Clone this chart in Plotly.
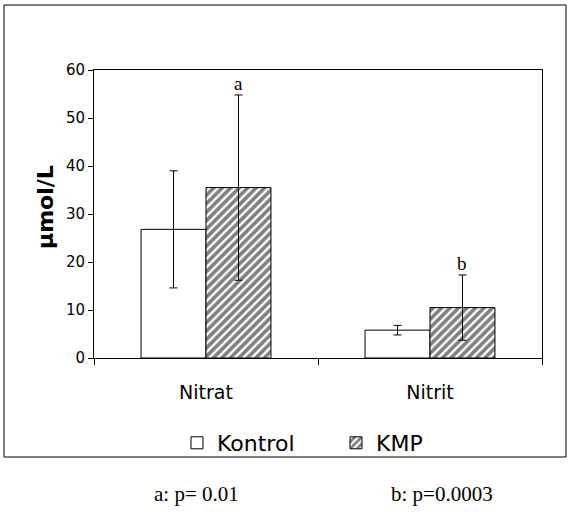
import plotly.graph_objects as go

categories = ["Nitrat", "Nitrit"]
kontrol = [26.8, 5.8]
kontrol_err = [12.2, 1.0]
kmp = [35.5, 10.5]
kmp_err = [19.3, 6.8]
sig_labels = ["a", "b"]
y_ticks = [0, 10, 20, 30, 40, 50, 60]
footnotes = ["a: p= 0.01", "b: p=0.0003"]

W, H = 568, 515
L, R, T, B = 94, 26, 70, 157
SANS = "DejaVu Sans"
SERIF = "Liberation Serif"

fig = go.Figure()
fig.add_trace(go.Bar(
    name="Kontrol", x=categories, y=kontrol,
    marker=dict(color="white", line=dict(color="black", width=1)),
    error_y=dict(type="data", array=kontrol_err, color="black", thickness=1, width=4),
))
fig.add_trace(go.Bar(
    name="KMP", x=categories, y=kmp,
    marker=dict(color="white", line=dict(color="black", width=1),
                pattern=dict(shape="/", fgcolor="black", bgcolor="white", size=6, solidity=0.6)),
    error_y=dict(type="data", array=kmp_err, color="black", thickness=1, width=4),
))

for i, c in enumerate(categories):
    fig.add_annotation(x=c, y=kmp[i] + kmp_err[i], xshift=32, text=sig_labels[i],
                       showarrow=False, yanchor="bottom", yshift=-1,
                       font=dict(family=SERIF, size=19, color="black"))

pw = W - L - R
ph = H - T - B
def px2x(px):
    return (px - L) / pw
def py2y(py):
    return (H - B - py) / ph

fig.add_shape(type="rect", xref="paper", yref="paper",
              x0=px2x(4), x1=px2x(566), y0=py2y(457), y1=py2y(5),
              line=dict(color="black", width=1))

fig.add_annotation(x=px2x(196), y=py2y(494), xref="paper", yref="paper", text=footnotes[0],
                   xanchor="center", yanchor="middle",
                   showarrow=False, font=dict(family=SERIF, size=21, color="black"))
fig.add_annotation(x=px2x(442), y=py2y(494), xref="paper", yref="paper", text=footnotes[1],
                   xanchor="center", yanchor="middle",
                   showarrow=False, font=dict(family=SERIF, size=21, color="black"))

fig.add_annotation(x=px2x(45), y=py2y(207), xref="paper", yref="paper", text="<b>µmol/L</b>",
                   xanchor="center", yanchor="middle", textangle=-90,
                   showarrow=False, font=dict(family=SANS, size=22, color="black"))

fig.update_layout(
    width=W, height=H,
    margin=dict(l=L, r=R, t=T, b=B),
    paper_bgcolor="white", plot_bgcolor="white",
    barmode="group", bargap=0.42, bargroupgap=0,
    font=dict(family=SANS, color="black"),
    showlegend=True,
    legend=dict(orientation="h", x=px2x(177), xanchor="left", y=py2y(443), yanchor="middle",
                bgcolor="rgba(0,0,0,0)",
                font=dict(family=SANS, size=22, color="black"),
                itemwidth=30, traceorder="normal", entrywidth=114, entrywidthmode="pixels"),
    xaxis=dict(showline=True, linecolor="black", linewidth=1, mirror=True,
               ticks="outside", tickson="boundaries", ticklen=6, tickcolor="black",
               tickfont=dict(family=SANS, size=19, color="black"), ticklabelstandoff=17,
               showgrid=False),
    yaxis=dict(range=[0, 60], tickvals=y_ticks, showline=True, linecolor="black", linewidth=1,
               mirror=True, ticks="outside", ticklen=5, tickcolor="black",
               tickfont=dict(family=SANS, size=15, color="black"),
               showgrid=False, zeroline=False),
)

fig.write_html("out.html", post_script="document.body.style.margin='0';",
               config={"displayModeBar": False})
